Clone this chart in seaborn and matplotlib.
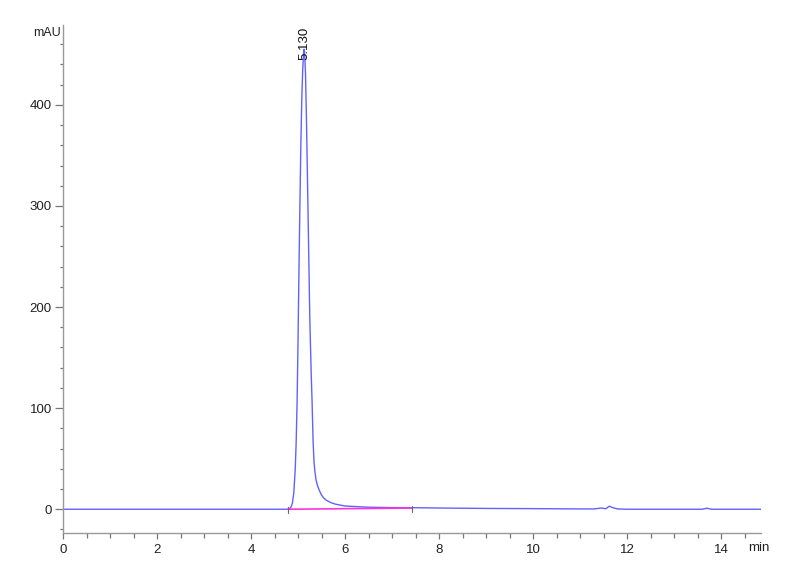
import numpy as np
import pandas as pd
import matplotlib
matplotlib.use("Agg")
import matplotlib.pyplot as plt
from matplotlib.ticker import MultipleLocator
import seaborn as sns

# chromatogram trace (time in min, signal in mAU)
time_min = [0.0, 2.0, 4.0, 4.78, 4.82, 4.85, 4.88, 4.91, 4.94, 4.96, 4.98, 5.00,
            5.02, 5.04, 5.06, 5.08, 5.10, 5.12, 5.13, 5.14, 5.16, 5.18, 5.20,
            5.22, 5.25, 5.28, 5.30, 5.32, 5.34, 5.36, 5.38, 5.41, 5.45, 5.50,
            5.55, 5.60, 5.70, 5.80, 6.00, 6.50, 7.00, 7.50, 8.00, 9.00, 10.00,
            11.00, 11.30, 11.45, 11.55, 11.62, 11.70, 11.80, 12.00, 13.00,
            13.60, 13.70, 13.80, 14.00, 14.87]
signal_mau = [0.0, 0.0, 0.0, 0.0, 0.6, 2.0, 6.0, 16.0, 39.0, 65.0, 105.0, 165.0,
              237.0, 300.0, 360.0, 405.0, 435.0, 452.0, 455.0, 452.0, 430.0, 385.0, 330.0,
              275.0, 190.0, 135.0, 105.0, 68.0, 47.0, 37.0, 30.0, 24.0, 19.0, 14.0,
              11.0, 9.0, 6.5, 5.0, 3.2, 2.0, 1.6, 1.5, 1.2, 0.8, 0.6,
              0.3, 0.3, 1.2, 0.5, 3.0, 1.5, 0.3, 0.0, 0.0,
              0.0, 1.0, 0.0, 0.0, 0.0]

# integration baseline under the main peak
base_time = [4.78, 7.42]
base_mau = [0.0, 1.2]

peak_rt = 5.130
label_at = 444.0

x_ticks = [0, 2, 4, 6, 8, 10, 12, 14]
y_ticks = [0, 100, 200, 300, 400]

sns.set_style("ticks")
plt.rcParams['font.family'] = ['Liberation Sans', 'DejaVu Sans']

trace = pd.DataFrame({"t": time_min, "mAU": signal_mau})
base = pd.DataFrame({"t": base_time, "mAU": base_mau})

fig = plt.figure(figsize=(8, 5.87), dpi=100)
ax = fig.add_axes([63 / 800, 1 - 533 / 587, (761 - 63) / 800, (533 - 25) / 587])

sns.lineplot(data=trace, x="t", y="mAU", ax=ax, color="#3a3aff", lw=1.0, alpha=0.8)
sns.lineplot(data=base, x="t", y="mAU", ax=ax, color="#ff33dd", lw=1.2)

# small baseline start / end marks
for t0, v0 in zip(base_time, base_mau):
    ax.plot([t0, t0], [v0 + 2, v0 - 4], color="#666666", lw=0.8)

ax.text(peak_rt, label_at, "5.130", rotation=90, ha="center", va="bottom",
        fontsize=9.5, color="#111111")

ax.set_xlim(0, 14.85)
ax.set_ylim(-23.5, 479)
ax.set_xticks(x_ticks)
ax.set_yticks(y_ticks)
ax.xaxis.set_minor_locator(MultipleLocator(0.5))
ax.yaxis.set_minor_locator(MultipleLocator(20))
ax.tick_params(axis="y", which="major", length=6, width=0.9, color="#777777", pad=2)
ax.tick_params(axis="y", which="minor", length=2.5, width=0.9, color="#777777")
ax.tick_params(axis="x", which="major", length=4, width=0.9, color="#777777", pad=4)
ax.tick_params(axis="x", which="minor", length=3.5, width=0.9, color="#777777")
ax.tick_params(axis="both", labelsize=9.5, labelcolor="#222222")
ax.set_xlabel("")
ax.set_ylabel("")
sns.despine(ax=ax)
for s in ["left", "bottom"]:
    ax.spines[s].set_color("#999999")
    ax.spines[s].set_linewidth(1.0)

fig.text(33 / 800, 1 - 33 / 587, "mAU", fontsize=9, color="#222222", va="center")
fig.text(748 / 800, 1 - 548 / 587, "min", fontsize=9.5, color="#222222", va="center")

fig.savefig("out.png", dpi=100)
